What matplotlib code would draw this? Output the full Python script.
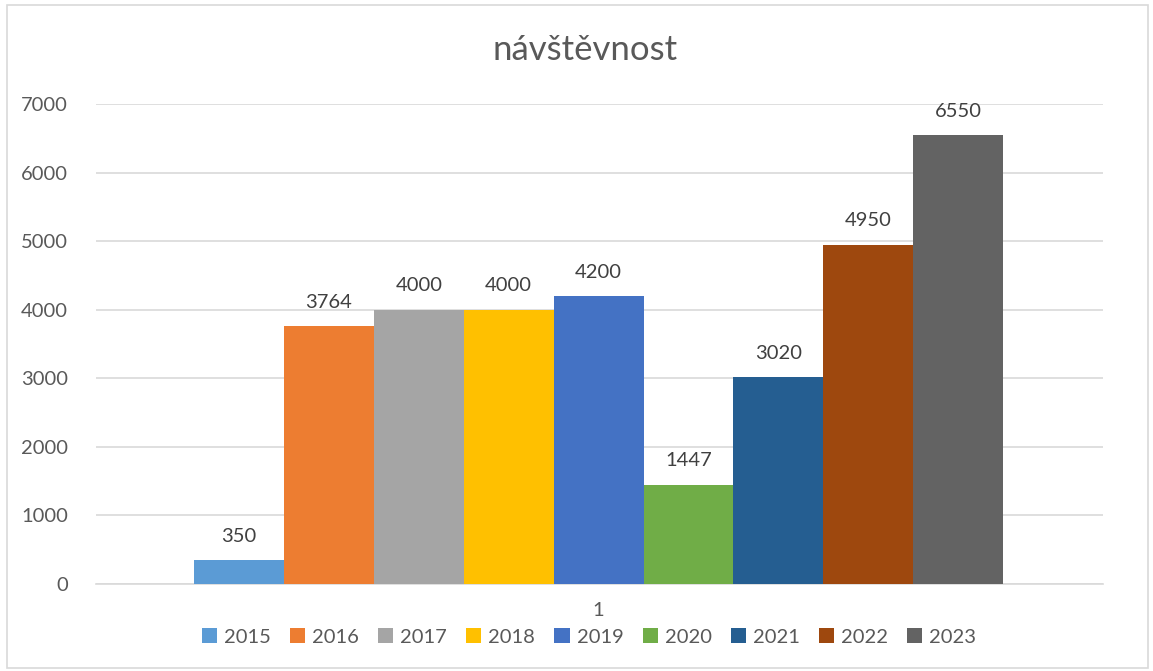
import matplotlib
matplotlib.use("Agg")
import matplotlib.pyplot as plt
from matplotlib.patches import Rectangle

years = ["2015", "2016", "2017", "2018", "2019", "2020", "2021", "2022", "2023"]
values = [350, 3764, 4000, 4000, 4200, 1447, 3020, 4950, 6550]
colors = ["#5B9BD5", "#ED7D31", "#A5A5A5", "#FFC000", "#4472C4",
          "#70AD47", "#255E91", "#9E480E", "#636363"]
yticks = [0, 1000, 2000, 3000, 4000, 5000, 6000, 7000]
category = "1"
title = "návštěvnost"

plt.rcParams['font.family'] = ['Lato', 'DejaVu Sans']

fig = plt.figure(figsize=(11.53, 6.71), dpi=100)
ax = fig.add_axes([96/1153, 1-584/671, (1103-96)/1153, (584-104)/671])

for i, (y, v, c) in enumerate(zip(years, values, colors)):
    ax.bar(i, v, width=1.0, color=c, label=y, zorder=3)
    ax.annotate(str(v), (i, v), xytext=(0, 11), textcoords="offset points",
                ha="center", va="bottom", fontsize=14.5, color="#404040")

ax.set_ylim(0, 7000)
ax.set_xlim(-1.59, 9.61)
ax.set_yticks(yticks)
ax.set_yticklabels([str(t) for t in yticks], fontsize=14.5, color="#595959")
ax.yaxis.grid(True, color="#D9D9D9", linewidth=1.2, zorder=0)
ax.tick_params(axis="y", length=0, pad=20)
ax.set_xticks([4])
ax.set_xticklabels([category], fontsize=14.5, color="#595959")
ax.tick_params(axis="x", length=0, pad=13)
for s in ["top", "right", "left"]:
    ax.spines[s].set_visible(False)
ax.spines["bottom"].set_color("#D9D9D9")
ax.spines["bottom"].set_linewidth(1.2)

fig.text(0.507, 1-50/671, title, ha="center", va="center", fontsize=25, color="#595959")

leg = fig.legend(loc="center", bbox_to_anchor=(0.511, 1-637/671), ncol=9, frameon=False,
                 fontsize=14.5, handlelength=0.75, handleheight=0.75, handletextpad=0.35,
                 columnspacing=0.95, labelcolor="#595959")

fig.patches.append(Rectangle((7/1153, 3/671), 1141/1153, 663/671, transform=fig.transFigure,
                             fill=False, edgecolor="#D9D9D9", linewidth=1.2))

fig.savefig("out.png", dpi=100)
